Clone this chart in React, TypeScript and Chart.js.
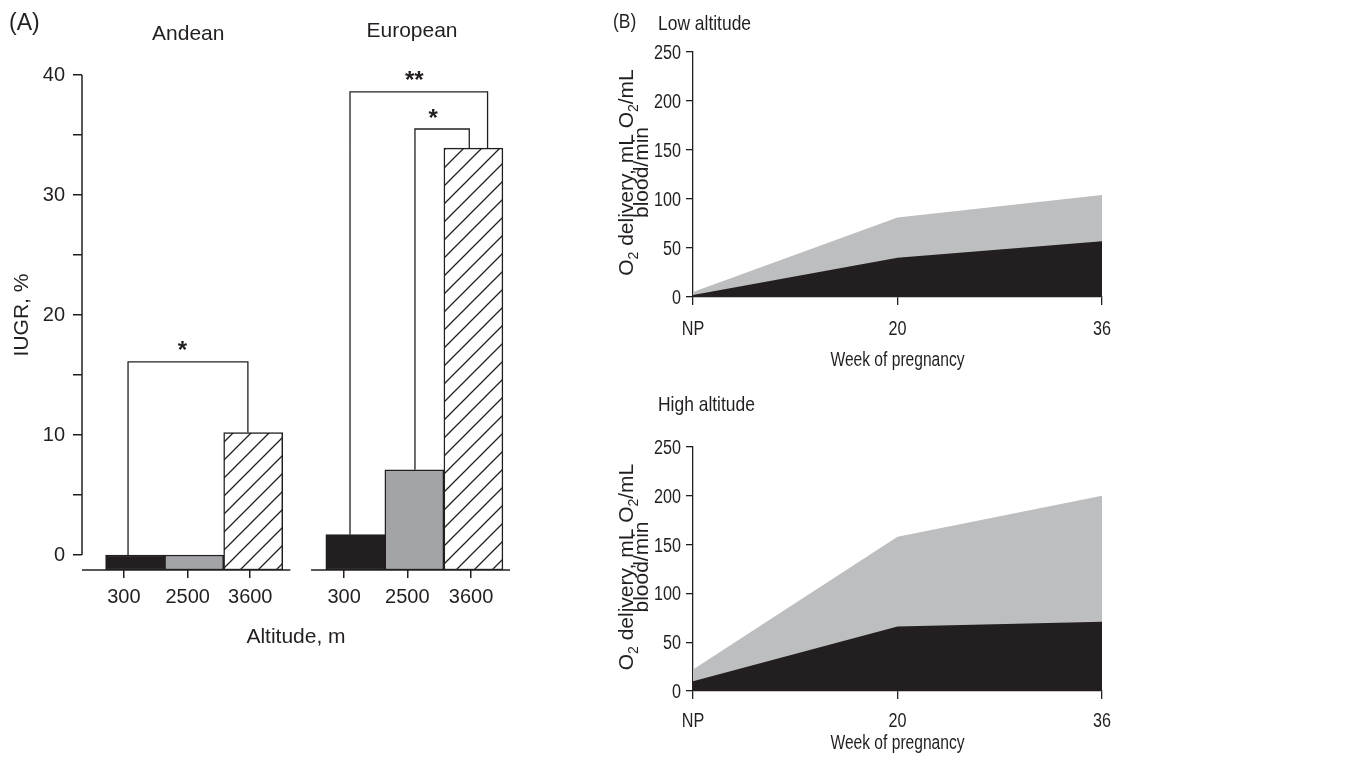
import React, { useEffect, useRef } from 'react';
import { Chart, registerables } from 'chart.js';

Chart.register(...registerables);

// ---------- Panel A data ----------
const groupNames = ['Andean', 'European'];
const groupCenters = [1.9, 5.69];
const altitudeLabels = ['300', '2500', '3600', '300', '2500', '3600'];
const barPositions = [1, 2, 3, 4.73, 5.73, 6.73];
const iugrValues = [0, 0, 10.2, 1.7, 7.1, 33.9];
const altitudeTickPositions = [0.81, 1.89, 2.95, 4.54, 5.61, 6.69];
const iugrTicks = [0, 5, 10, 15, 20, 25, 30, 35, 40];
const groupAxisFrom = [0.1, 3.98];
const groupAxisTo = [3.63, 7.35];

// significance brackets
const bracketLeft = [0.88, 4.64, 5.74];
const bracketRight = [2.91, 6.97, 6.66];
const bracketLeftBase = [0, 1.7, 7.1];
const bracketRightBase = [10.2, 33.9, 33.9];
const bracketTop = [16.1, 38.6, 35.5];
const bracketMarks = ['*', '**', '*'];
const bracketMarkX = [1.8, 5.73, 6.05];

// ---------- Panel B data ----------
const weekLabels = ['NP', '20', '36'];
const lowInner = [2, 40, 57];
const lowTotal = [5, 81, 104];
const highInner = [10, 66, 71];
const highTotal = [22, 158, 200];
const deliveryTicks = [0, 50, 100, 150, 200, 250];

const INK = '#231f20';
const BAR_GRAY = '#a2a4a7';
const AREA_GRAY = '#bcbec0';
const SANS = '"Liberation Sans", Arial, Helvetica, sans-serif';
const NARROW_X = 0.83;

function makeHatch(): CanvasPattern | string {
  const s = 18;
  const c = document.createElement('canvas');
  c.width = s;
  c.height = s;
  const g = c.getContext('2d');
  if (!g) return '#ffffff';
  g.fillStyle = '#ffffff';
  g.fillRect(0, 0, s, s);
  g.strokeStyle = INK;
  g.lineWidth = 1.3;
  g.beginPath();
  g.moveTo(-2, s + 2);
  g.lineTo(s + 2, -2);
  g.moveTo(-2, 2);
  g.lineTo(2, -2);
  g.moveTo(s - 2, s + 2);
  g.lineTo(s + 2, s - 2);
  g.stroke();
  const p = g.createPattern(c, 'repeat');
  return p || '#ffffff';
}

function centeredText(ctx: CanvasRenderingContext2D, text: string, x: number, cy: number) {
  const m = ctx.measureText(text);
  const asc = m.actualBoundingBoxAscent;
  const desc = m.actualBoundingBoxDescent;
  ctx.fillText(text, x, cy - (desc - asc) / 2);
}

// horizontally condensed text (the reference uses a narrow sans face)
function narrowText(ctx: CanvasRenderingContext2D, text: string, x: number, cy: number, align: CanvasTextAlign, size: number, sx = NARROW_X) {
  ctx.save();
  ctx.translate(x, 0);
  ctx.scale(sx, 1);
  ctx.font = `${size}px ${SANS}`;
  ctx.textAlign = align;
  ctx.textBaseline = 'alphabetic';
  centeredText(ctx, text, 0, cy);
  ctx.restore();
}

type Seg = { t: string; sub?: boolean };

function drawRich(ctx: CanvasRenderingContext2D, segs: Seg[], cx: number, baseline: number, size: number) {
  const widths = segs.map((s) => {
    ctx.font = `${s.sub ? Math.round(size * 0.68) : size}px ${SANS}`;
    return ctx.measureText(s.t).width;
  });
  const total = widths.reduce((a, b) => a + b, 0);
  let x = cx - total / 2;
  ctx.textAlign = 'left';
  ctx.textBaseline = 'alphabetic';
  segs.forEach((s, i) => {
    ctx.font = `${s.sub ? Math.round(size * 0.68) : size}px ${SANS}`;
    ctx.fillText(s.t, x, baseline + (s.sub ? size * 0.22 : 0));
    x += widths[i];
  });
}

const panelAPlugin = {
  id: 'panelA',
  afterDraw(chart: any) {
    const { ctx, chartArea, scales } = chart;
    const xs = scales.x;
    const ys = scales.y;
    ctx.save();
    ctx.strokeStyle = INK;
    ctx.fillStyle = INK;
    ctx.lineWidth = 1.5;
    // y axis line (0..40)
    ctx.beginPath();
    ctx.moveTo(chartArea.left, ys.getPixelForValue(iugrTicks[0]));
    ctx.lineTo(chartArea.left, ys.getPixelForValue(iugrTicks[iugrTicks.length - 1]));
    ctx.stroke();
    // group baselines
    groupAxisFrom.forEach((from, i) => {
      ctx.beginPath();
      ctx.moveTo(xs.getPixelForValue(from), chartArea.bottom);
      ctx.lineTo(xs.getPixelForValue(groupAxisTo[i]), chartArea.bottom);
      ctx.stroke();
    });
    // brackets
    ctx.lineWidth = 1.3;
    bracketLeft.forEach((l, i) => {
      const x1 = xs.getPixelForValue(l);
      const x2 = xs.getPixelForValue(bracketRight[i]);
      const yt = ys.getPixelForValue(bracketTop[i]);
      ctx.beginPath();
      ctx.moveTo(x1, ys.getPixelForValue(bracketLeftBase[i]));
      ctx.lineTo(x1, yt);
      ctx.lineTo(x2, yt);
      ctx.lineTo(x2, ys.getPixelForValue(bracketRightBase[i]));
      ctx.stroke();
      ctx.font = `bold 24px ${SANS}`;
      ctx.textAlign = 'center';
      ctx.textBaseline = 'alphabetic';
      centeredText(ctx, bracketMarks[i], xs.getPixelForValue(bracketMarkX[i]), yt - 16);
    });
    // group names
    ctx.font = `21px ${SANS}`;
    ctx.textAlign = 'center';
    groupNames.forEach((n, i) => {
      centeredText(ctx, n, xs.getPixelForValue(groupCenters[i]), 32);
    });
    // panel label
    ctx.font = `23px ${SANS}`;
    ctx.textAlign = 'left';
    centeredText(ctx, '(A)', 9, 23);
    // x title
    ctx.font = `21px ${SANS}`;
    ctx.textAlign = 'center';
    centeredText(ctx, 'Altitude, m', (chartArea.left + chartArea.right) / 2, 637);
    // y title
    ctx.save();
    ctx.translate(28, 315);
    ctx.rotate(-Math.PI / 2);
    ctx.textAlign = 'center';
    ctx.textBaseline = 'alphabetic';
    ctx.fillText('IUGR, %', 0, 0);
    ctx.restore();
    ctx.restore();
  },
};

function makePanelBPlugin(title: string, showB: boolean, titleY: number, tickLabelY: number, xTitleY: number) {
  return {
    id: 'panelB',
    afterDraw(chart: any) {
      const { ctx, chartArea, scales } = chart;
      const xs = scales.x;
      const ys = scales.y;
      ctx.save();
      ctx.fillStyle = INK;
      if (showB) narrowText(ctx, '(B)', 23, titleY, 'left', 21);
      narrowText(ctx, title, 68, titleY, 'left', 21);
      // tick labels
      deliveryTicks.forEach((v) => {
        narrowText(ctx, String(v), chartArea.left - 12, ys.getPixelForValue(v), 'right', 19.5);
      });
      weekLabels.forEach((lab, i) => {
        narrowText(ctx, lab, xs.getPixelForValue(i), tickLabelY, 'center', 19.5);
      });
      narrowText(ctx, 'Week of pregnancy', (chartArea.left + chartArea.right) / 2, xTitleY, 'center', 20, 0.78);
      // y title with subscripts
      const cy = (chartArea.top + chartArea.bottom) / 2 - 2;
      ctx.save();
      ctx.translate(43, cy);
      ctx.rotate(-Math.PI / 2);
      drawRich(
        ctx,
        [{ t: 'O' }, { t: '2', sub: true }, { t: ' delivery, mL O' }, { t: '2', sub: true }, { t: '/mL' }],
        0,
        0,
        21
      );
      ctx.restore();
      ctx.save();
      ctx.translate(58, cy);
      ctx.rotate(-Math.PI / 2);
      drawRich(ctx, [{ t: 'blood/min' }], 0, 0, 21);
      ctx.restore();
      ctx.restore();
    },
  };
}

function makeAreaConfig(inner: number[], total: number[], padTop: number, xHeight: number, plugin: any): any {
  return {
    type: 'line',
    data: {
      labels: weekLabels,
      datasets: [
        {
          data: inner,
          fill: 'origin',
          backgroundColor: INK,
          borderColor: 'rgba(0,0,0,0)',
          borderWidth: 0,
          pointRadius: 0,
          tension: 0,
        },
        {
          data: total,
          fill: 'origin',
          backgroundColor: AREA_GRAY,
          borderColor: 'rgba(0,0,0,0)',
          borderWidth: 0,
          pointRadius: 0,
          tension: 0,
        },
      ],
    },
    options: {
      animation: false,
      responsive: false,
      maintainAspectRatio: false,
      events: [],
      layout: { padding: { left: 0, right: 48, top: padTop, bottom: 0 } },
      plugins: { legend: { display: false }, tooltip: { enabled: false } },
      scales: {
        x: {
          type: 'category',
          offset: false,
          afterFit: (s: any) => {
            s.height = xHeight;
          },
          grid: { drawOnChartArea: false, tickLength: 8, color: INK, lineWidth: 1.3, offset: false },
          border: { display: true, color: INK, width: 1.3 },
          ticks: { display: false },
        },
        y: {
          min: 0,
          max: 250,
          afterBuildTicks: (s: any) => {
            s.ticks = deliveryTicks.map((v) => ({ value: v }));
          },
          afterFit: (s: any) => {
            s.width = 103;
          },
          grid: { drawOnChartArea: false, tickLength: 7, color: INK, lineWidth: 1.3 },
          border: { display: true, color: INK, width: 1.3 },
          ticks: { display: false },
        },
      },
    },
    plugins: [plugin],
  };
}

export default function App() {
  const aRef = useRef<HTMLCanvasElement>(null);
  const b1Ref = useRef<HTMLCanvasElement>(null);
  const b2Ref = useRef<HTMLCanvasElement>(null);

  useEffect(() => {
    const charts: Chart[] = [];
    if (aRef.current) {
      const hatch = makeHatch();
      charts.push(
        new Chart(aRef.current, {
          type: 'bar',
          data: {
            datasets: [
              {
                data: barPositions.map((x, i) => ({ x, y: iugrValues[i] })),
                backgroundColor: [INK, BAR_GRAY, hatch, INK, BAR_GRAY, hatch] as any,
                borderColor: INK,
                borderWidth: 1.5,
                borderSkipped: false,
                base: -1.25,
                categoryPercentage: 1,
                barPercentage: 1,
              } as any,
            ],
          },
          options: {
            animation: false,
            responsive: false,
            maintainAspectRatio: false,
            events: [],
            layout: { padding: { left: 0, right: 30, top: 75, bottom: 0 } },
            plugins: { legend: { display: false }, tooltip: { enabled: false } },
            scales: {
              x: {
                type: 'linear',
                min: 0.1,
                max: 7.35,
                offset: false,
                afterBuildTicks: (s: any) => {
                  s.ticks = altitudeTickPositions.map((v) => ({ value: v }));
                },
                afterFit: (s: any) => {
                  s.height = 110;
                },
                grid: { drawOnChartArea: false, tickLength: 8, color: INK, lineWidth: 1.5, offset: false },
                border: { display: false },
                ticks: {
                  callback: (_v: any, i: number) => altitudeLabels[i],
                  font: { family: SANS, size: 20 },
                  color: INK,
                  padding: 7,
                  maxRotation: 0,
                  autoSkip: false,
                },
              },
              y: {
                min: -1.25,
                max: 40,
                afterBuildTicks: (s: any) => {
                  s.ticks = iugrTicks.map((v) => ({ value: v }));
                },
                afterFit: (s: any) => {
                  s.width = 82;
                },
                grid: { drawOnChartArea: false, tickLength: 9, color: INK, lineWidth: 1.5 },
                border: { display: false },
                ticks: {
                  callback: (v: any) => (Number(v) % 10 === 0 ? String(v) : ''),
                  font: { family: SANS, size: 20 },
                  color: INK,
                  padding: 8,
                },
              },
            },
          } as any,
          plugins: [panelAPlugin],
        })
      );
    }
    if (b1Ref.current) {
      charts.push(new Chart(b1Ref.current, makeAreaConfig(lowInner, lowTotal, 52, 83, makePanelBPlugin('Low altitude', true, 22, 328, 360))));
    }
    if (b2Ref.current) {
      charts.push(new Chart(b2Ref.current, makeAreaConfig(highInner, highTotal, 67, 76, makePanelBPlugin('High altitude', false, 25, 340, 363))));
    }
    return () => charts.forEach((c) => c.destroy());
  }, []);

  return (
    <div style={{ position: 'absolute', left: 0, top: 0, width: 1361, height: 767, background: '#ffffff', overflow: 'hidden' }}>
      <canvas ref={aRef} width={540} height={680} style={{ position: 'absolute', left: 0, top: 0, width: 540, height: 680 }} />
      <canvas ref={b1Ref} width={560} height={380} style={{ position: 'absolute', left: 590, top: 0, width: 560, height: 380 }} />
      <canvas ref={b2Ref} width={560} height={387} style={{ position: 'absolute', left: 590, top: 380, width: 560, height: 387 }} />
    </div>
  );
}
